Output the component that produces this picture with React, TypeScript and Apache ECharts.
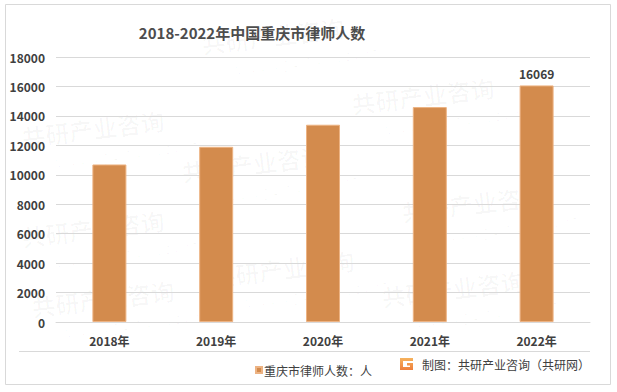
import React, { useEffect, useRef } from "react";
import * as echarts from "echarts";

const categories = ["2018年", "2019年", "2020年", "2021年", "2022年"];
const lawyers = [10700, 11900, 13400, 14600, 16069];
const seriesName = "重庆市律师人数：人";
const titleText = "2018-2022年中国重庆市律师人数";
const sourceText = "制图：共研产业咨询（共研网）";

const FONT = "'Noto Sans CJK SC', 'Noto Sans', sans-serif";

const wmPositions = [
  [200, 32], [350, 92], [20, 125], [180, 160], [400, 200],
  [20, 225], [210, 265], [380, 285], [30, 295],
];

export default function App() {
  const ref = useRef<HTMLDivElement>(null);
  useEffect(() => {
    document.body.style.margin = "0";
    const chart = echarts.init(ref.current!, null, { renderer: "svg" });
    const watermarks: any[] = [];
    wmPositions.forEach(([x, y]) => {
      watermarks.push({
        type: "text",
        x,
        y,
        rotation: 0.12,
        z: -10,
        silent: true,
        style: { text: "共研产业咨询", fill: "rgba(0,0,0,0.028)", font: `bold 24px ${FONT}` },
      });
      watermarks.push({
        type: "text",
        x: x + 30,
        y: y + 30,
        rotation: 0.12,
        z: -10,
        silent: true,
        style: { text: "w w w . g o n y n . c o m", fill: "rgba(0,0,0,0.028)", font: `14px ${FONT}` },
      });
    });
    chart.setOption({
      animation: false,
      backgroundColor: "#ffffff",
      title: {
        text: titleText,
        left: 247,
        textAlign: "center",
        top: 20,
        textStyle: { fontFamily: FONT, fontSize: 15, fontWeight: "bold", color: "#4d4d4d" },
      },
      grid: { left: 56, right: 27, top: 57, bottom: 70 },
      legend: {
        left: 250,
        top: 359,
        itemWidth: 6,
        itemHeight: 6,
        icon: "rect",
        itemGap: 4,
        textStyle: { fontFamily: FONT, fontSize: 12, color: "#404040", padding: [0, 0, 0, -3] },
        data: [seriesName],
      },
      xAxis: {
        type: "category",
        data: categories,
        axisTick: { show: false },
        axisLine: { lineStyle: { color: "#d9d9d9" } },
        axisLabel: { margin: 12, fontFamily: FONT, fontSize: 12, fontWeight: "bold", color: "#404040" },
      },
      yAxis: {
        type: "value",
        min: 0,
        max: 18000,
        interval: 2000,
        axisLine: { show: false },
        axisTick: { show: false },
        splitLine: { lineStyle: { color: "#d9d9d9" } },
        axisLabel: {
          margin: 11,
          fontFamily: FONT,
          fontSize: 12,
          fontWeight: "bold",
          color: "#404040",
          formatter: (v: number) => String(v),
        },
      },
      series: [
        {
          name: seriesName,
          type: "bar",
          data: lawyers.map((v, i) => ({
            value: v,
            label: { show: i === lawyers.length - 1 },
          })),
          barWidth: 34,
          itemStyle: { color: "#D38B4D", borderColor: "#EDB383", borderWidth: 1 },
          label: {
            position: "top",
            distance: 6,
            fontFamily: FONT,
            fontSize: 12,
            fontWeight: "bold",
            color: "#404040",
            formatter: (p: any) => String(p.value),
          },
        },
      ],
      graphic: [
        ...watermarks,
        {
          type: "rect",
          shape: { x: 5.5, y: 4.5, width: 605, height: 380 },
          style: { fill: "none", stroke: "#d9d9d9", lineWidth: 1 },
          silent: true,
        },
        {
          type: "line",
          shape: { x1: 19, y1: 351.5, x2: 590, y2: 351.5 },
          style: { stroke: "#d9d9d9", lineWidth: 1 },
          silent: true,
        },
        {
          type: "polygon",
          x: 400,
          y: 358,
          shape: {
            points: [
              [0, 0], [13, 0], [13, 3], [3, 3], [3, 9], [10, 9], [10, 7.5],
              [7, 7.5], [7, 5], [13, 5], [13, 12], [0, 12],
            ],
          },
          style: {
            fill: new echarts.graphic.LinearGradient(0, 0, 0, 1, [
              { offset: 0, color: "#F6B35E" },
              { offset: 1, color: "#EE7F3C" },
            ]),
          },
        },
        {
          type: "text",
          x: 422,
          y: 358,
          style: { text: sourceText, font: `12px ${FONT}`, fill: "#404040" },
        },
      ],
    });
    return () => chart.dispose();
  }, []);
  return <div ref={ref} style={{ width: 617, height: 392 }} />;
}
